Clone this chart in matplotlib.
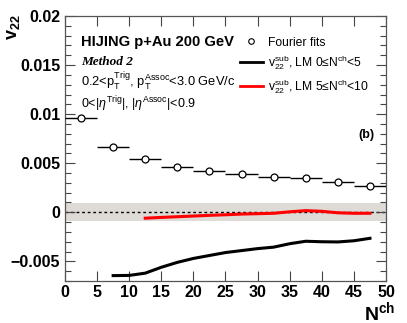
import numpy as np
import matplotlib.pyplot as plt
from matplotlib.ticker import MultipleLocator
from matplotlib.lines import Line2D

# Fourier fit points (bin centres, half widths)
fit_x = np.array([2.5, 7.5, 12.5, 17.5, 22.5, 27.5, 32.5, 37.5, 42.5, 47.5])
fit_xerr = np.full(10, 2.5)
fit_y = np.array([0.0096, 0.00669, 0.0054, 0.00465, 0.0042, 0.00387,
                  0.00356, 0.00353, 0.00312, 0.00272])

# v22 sub, LM 0<=Nch<5
lm0_x = np.array([7.5, 10, 12.5, 15, 17.5, 20, 22.5, 25, 27.5, 30,
                  32.5, 35, 37.5, 40, 42.5, 45, 47.5])
lm0_y = np.array([-0.00645, -0.00643, -0.0062, -0.0056, -0.0051, -0.0047,
                  -0.0044, -0.0041, -0.0039, -0.0037, -0.00355, -0.0032,
                  -0.00295, -0.003, -0.00302, -0.0029, -0.00265])

# v22 sub, LM 5<=Nch<10
lm5_x = np.array([12.5, 15, 17.5, 20, 22.5, 25, 27.5, 30, 32.5, 35,
                  37.5, 40, 42.5, 45, 47.5])
lm5_y = np.array([-0.0006, -0.00052, -0.00045, -0.00038, -0.00031,
                  -0.00025, -0.00018, -0.00014, -0.0001, 0.00005,
                  0.00017, 0.0001, -0.00005, -0.0001, -0.0001])

band = 0.0009

plt.rcParams['font.family'] = ['Liberation Sans', 'DejaVu Sans']
plt.rcParams['mathtext.fontset'] = 'custom'
plt.rcParams['mathtext.rm'] = 'Liberation Sans'
plt.rcParams['mathtext.it'] = 'Liberation Sans:italic'
plt.rcParams['mathtext.bf'] = 'Liberation Sans:bold'

fig = plt.figure(figsize=(4.07, 3.23), dpi=100)
ax = fig.add_axes([0.1597, 0.130, 0.7887, 0.8205])

ax.axhspan(-band, band, color='#dedad6', zorder=0, lw=0)
ax.axhline(0, color='black', ls=(0, (2, 2)), lw=1.0, zorder=1)

ax.errorbar(fit_x, fit_y, xerr=fit_xerr, fmt='o', mfc='white', mec='black',
            ecolor='black', ms=5, mew=0.9, elinewidth=1.0, capsize=0, zorder=3)
ax.plot(lm0_x, lm0_y, color='black', lw=2.2, zorder=2)
ax.plot(lm5_x, lm5_y, color='red', lw=2.2, zorder=2)

ax.set_xlim(0, 50)
ax.set_ylim(-0.007, 0.02)
ax.xaxis.set_major_locator(MultipleLocator(5))
ax.yaxis.set_minor_locator(MultipleLocator(0.001))
ax.set_yticks([-0.005, 0, 0.005, 0.01, 0.015, 0.02])
ax.set_yticklabels(['\u22120.005', '0', '0.005', '0.01', '0.015', '0.02'])
ax.tick_params(axis='both', which='both', direction='in', top=True, right=True,
               labelsize=11.5, colors='#444444', labelcolor='black')
ax.tick_params(which='major', length=7, width=0.8)
ax.tick_params(which='minor', length=4, width=0.8)
ax.tick_params(axis='x', pad=3)
for lab in ax.get_xticklabels() + ax.get_yticklabels():
    lab.set_fontweight('bold')
for s in ax.spines.values():
    s.set_color('#555555')
    s.set_linewidth(0.9)

fig.text(0.012, 0.955, r'$\mathbf{v_{22}}$', rotation=90, ha='left', va='top',
         fontsize=13)
fig.text(0.972, 1 - 320 / 323, r'$\mathbf{N^{ch}}$', ha='right', va='baseline',
         fontsize=14)

ax.text(0.05, 0.885, 'HIJING p+Au 200 GeV', transform=ax.transAxes,
        fontsize=10.6, fontweight='bold', va='baseline')
ax.text(0.05, 0.815, 'Method 2', transform=ax.transAxes, fontsize=9.5,
        family='Liberation Serif', style='italic', fontweight='bold',
        va='baseline')
ax.text(0.05, 0.735, r'0.2<p$_{\rm T}^{\rm Trig}$, p$_{\rm T}^{\rm Assoc}$<3.0 GeV/c',
        transform=ax.transAxes, fontsize=9.3, va='baseline')
ax.text(0.05, 0.653, r'0<|$\eta^{\rm Trig}$|, |$\eta^{\rm Assoc}$|<0.9',
        transform=ax.transAxes, fontsize=9, va='baseline')
ax.text(0.915, 0.55, '(b)', transform=ax.transAxes, fontsize=9,
        fontweight='bold', va='center')

handles = [Line2D([], [], ls='none', marker='o', mfc='white', mec='black',
                  ms=4, mew=0.8),
           Line2D([], [], color='black', lw=2),
           Line2D([], [], color='red', lw=2)]
labels = ['Fourier fits',
          'v$_{22}^{\\rm sub}$, LM 0\u2264N$^{\\rm ch}$<5',
          'v$_{22}^{\\rm sub}$, LM 5\u2264N$^{\\rm ch}$<10']
ax.legend(handles, labels, loc='upper left', bbox_to_anchor=(0.545, 0.922),
          frameon=False, fontsize=8.7, handlelength=1.9, handletextpad=0.4,
          labelspacing=0.4, borderaxespad=0, borderpad=0)

fig.savefig('out.png', dpi=100)
